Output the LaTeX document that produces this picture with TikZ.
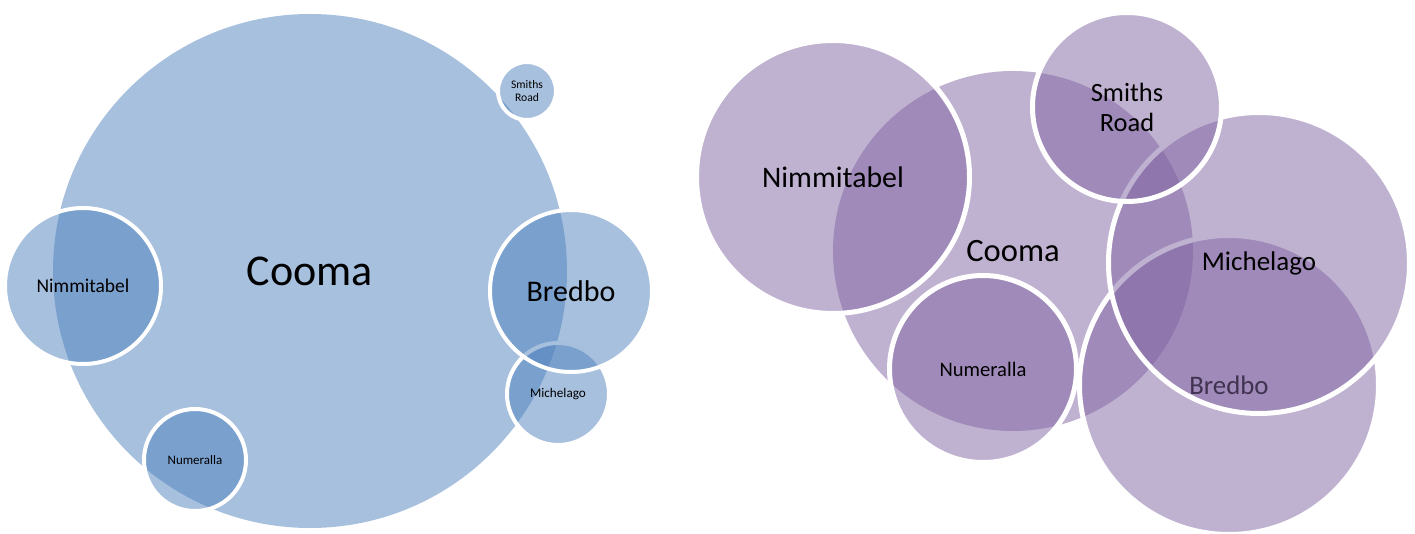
\documentclass[tikz,border=0pt]{standalone}
\usepackage{fontspec}
\setmainfont{Carlito}
\definecolor{vennblue}{HTML}{4F81BD}
\definecolor{vennpurple}{HTML}{8064A2}

\begin{document}
\begin{tikzpicture}[x=0.5pt,y=-0.5pt,
    blob/.style={circle,inner sep=0pt,align=center,fill opacity=0.5,text opacity=1,text=black},
    blueblob/.style={blob,fill=vennblue,draw=white,line width=2pt},
    purpleblob/.style={blob,fill=vennpurple,draw=white,line width=2.5pt}]
        \useasboundingbox (0,0) rectangle (1415,534);
        % left venn, drawn back to front
        \node[blob,fill=vennblue,minimum size=257pt,font=\fontsize{22}{26}\selectfont] (coomaL) at (310,271) {Cooma};
        \node[blueblob,minimum size=29pt,font=\fontsize{5.8}{6.8}\selectfont] (smithsL) at (527,91) {Smiths\\Road};
        \node[blueblob,minimum size=78pt,font=\fontsize{9.75}{11}\selectfont] (nimmitabelL) at (83,286) {Nimmitabel};
        \node[blueblob,minimum size=51pt,font=\fontsize{6.5}{7.5}\selectfont] (numerallaL) at (195,460) {Numeralla};
        \node[blueblob,minimum size=51pt,font=\fontsize{6.6}{7.5}\selectfont] (michelagoL) at (558,394) {Michelago};
        \node[blueblob,minimum size=81pt,font=\fontsize{15}{18}\selectfont] (bredboL) at (571,291) {Bredbo};
        % right venn
        \node[blob,fill=vennpurple,minimum size=180pt,font=\fontsize{16.3}{19}\selectfont] (coomaR) at (1013,251) {Cooma};
        \node[purpleblob,minimum size=136.5pt,font=\fontsize{14.9}{17}\selectfont] (nimmitabelR) at (833,177) {Nimmitabel};
        \node[purpleblob,minimum size=93.5pt,font=\fontsize{10.3}{12}\selectfont] (numerallaR) at (983,369) {Numeralla};
        \node[purpleblob,minimum size=149.5pt,font=\fontsize{13.4}{16}\selectfont] (bredboR) at (1229,385) {Bredbo};
        \node[purpleblob,minimum size=150.5pt,font=\fontsize{13.5}{16}\selectfont] (michelagoR) at (1259,263) {Michelago};
        \node[purpleblob,minimum size=94.5pt,font=\fontsize{13.2}{15}\selectfont] (smithsR) at (1127,107) {Smiths\\Road};
\end{tikzpicture}
\end{document}
